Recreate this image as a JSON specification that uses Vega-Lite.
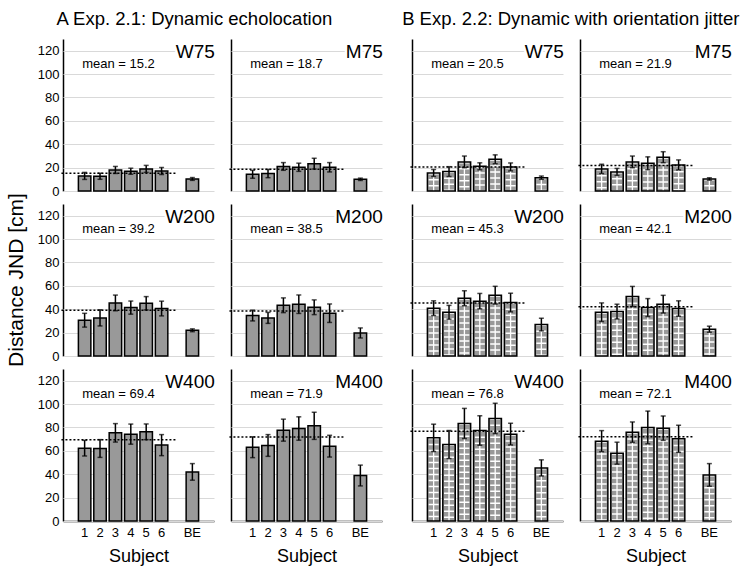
{
  "$schema": "https://vega.github.io/schema/vega-lite/v6.json",
  "padding": {"left": 5, "top": 9, "right": 2, "bottom": 2},
  "config": {
    "font": "Liberation Sans",
    "view": {"stroke": null},
    "axis": {"labelColor": "black", "titleColor": "black", "labelFontSize": 13, "domainColor": "black", "domainWidth": 1.5, "ticks": false, "gridColor": "#d9d9d9", "gridWidth": 1, "titleFontWeight": "normal"},
    "axisY": {"tickCount": 7, "labelOverlap": false},
    "title": {"fontWeight": "normal", "fontSize": 18.5, "color": "black", "anchor": "middle", "offset": 11}
  },
  "datasets": {
    "means": [
      {"g": "AW75", "exp": "A", "t": "W", "d": 75, "panel": "W75", "m": 15.2, "ml": "mean = 15.2"},
      {"g": "AM75", "exp": "A", "t": "M", "d": 75, "panel": "M75", "m": 18.7, "ml": "mean = 18.7"},
      {"g": "BW75", "exp": "B", "t": "W", "d": 75, "panel": "W75", "m": 20.5, "ml": "mean = 20.5"},
      {"g": "BM75", "exp": "B", "t": "M", "d": 75, "panel": "M75", "m": 21.9, "ml": "mean = 21.9"},
      {"g": "AW200", "exp": "A", "t": "W", "d": 200, "panel": "W200", "m": 39.2, "ml": "mean = 39.2"},
      {"g": "AM200", "exp": "A", "t": "M", "d": 200, "panel": "M200", "m": 38.5, "ml": "mean = 38.5"},
      {"g": "BW200", "exp": "B", "t": "W", "d": 200, "panel": "W200", "m": 45.3, "ml": "mean = 45.3"},
      {"g": "BM200", "exp": "B", "t": "M", "d": 200, "panel": "M200", "m": 42.1, "ml": "mean = 42.1"},
      {"g": "AW400", "exp": "A", "t": "W", "d": 400, "panel": "W400", "m": 69.4, "ml": "mean = 69.4"},
      {"g": "AM400", "exp": "A", "t": "M", "d": 400, "panel": "M400", "m": 71.9, "ml": "mean = 71.9"},
      {"g": "BW400", "exp": "B", "t": "W", "d": 400, "panel": "W400", "m": 76.8, "ml": "mean = 76.8"},
      {"g": "BM400", "exp": "B", "t": "M", "d": 400, "panel": "M400", "m": 72.1, "ml": "mean = 72.1"}
    ],
    "bars": [
      {"g": "AW75", "s": "1", "v": 12.9, "e": 3}, {"g": "AW75", "s": "2", "v": 12.6, "e": 2.6}, {"g": "AW75", "s": "3", "v": 18, "e": 3}, {"g": "AW75", "s": "4", "v": 16.9, "e": 2.6}, {"g": "AW75", "s": "5", "v": 18.9, "e": 3}, {"g": "AW75", "s": "6", "v": 17.1, "e": 3}, {"g": "AW75", "s": "BE", "v": 10.3, "e": 1.2},
      {"g": "AM75", "s": "1", "v": 14.3, "e": 3.4}, {"g": "AM75", "s": "2", "v": 14.9, "e": 3.5}, {"g": "AM75", "s": "3", "v": 21, "e": 3.3}, {"g": "AM75", "s": "4", "v": 20.3, "e": 3.5}, {"g": "AM75", "s": "5", "v": 23.4, "e": 4.6}, {"g": "AM75", "s": "6", "v": 20.3, "e": 4}, {"g": "AM75", "s": "BE", "v": 10, "e": 1},
      {"g": "BW75", "s": "1", "v": 15.4, "e": 3}, {"g": "BW75", "s": "2", "v": 16.6, "e": 4.2}, {"g": "BW75", "s": "3", "v": 24.9, "e": 5}, {"g": "BW75", "s": "4", "v": 21.1, "e": 3}, {"g": "BW75", "s": "5", "v": 27.1, "e": 3.8}, {"g": "BW75", "s": "6", "v": 20.6, "e": 3.4}, {"g": "BW75", "s": "BE", "v": 11.4, "e": 1.4},
      {"g": "BM75", "s": "1", "v": 18.9, "e": 4}, {"g": "BM75", "s": "2", "v": 16.3, "e": 3}, {"g": "BM75", "s": "3", "v": 24.9, "e": 5}, {"g": "BM75", "s": "4", "v": 23.7, "e": 5.5}, {"g": "BM75", "s": "5", "v": 28.9, "e": 4.7}, {"g": "BM75", "s": "6", "v": 22.3, "e": 4.3}, {"g": "BM75", "s": "BE", "v": 10.3, "e": 1},
      {"g": "AW200", "s": "1", "v": 30.6, "e": 5.9}, {"g": "AW200", "s": "2", "v": 32.6, "e": 6.9}, {"g": "AW200", "s": "3", "v": 45.4, "e": 6.7}, {"g": "AW200", "s": "4", "v": 41.4, "e": 5.6}, {"g": "AW200", "s": "5", "v": 45.1, "e": 5.7}, {"g": "AW200", "s": "6", "v": 40.6, "e": 6.3}, {"g": "AW200", "s": "BE", "v": 22, "e": 1.2},
      {"g": "AM200", "s": "1", "v": 34.6, "e": 4.6}, {"g": "AM200", "s": "2", "v": 32.6, "e": 4.7}, {"g": "AM200", "s": "3", "v": 43.4, "e": 6.3}, {"g": "AM200", "s": "4", "v": 44.3, "e": 7.9}, {"g": "AM200", "s": "5", "v": 41.7, "e": 6.3}, {"g": "AM200", "s": "6", "v": 36.6, "e": 7.9}, {"g": "AM200", "s": "BE", "v": 19.7, "e": 4.3},
      {"g": "BW200", "s": "1", "v": 40.9, "e": 6.3}, {"g": "BW200", "s": "2", "v": 37.4, "e": 5.9}, {"g": "BW200", "s": "3", "v": 49.4, "e": 6.4}, {"g": "BW200", "s": "4", "v": 46.9, "e": 6.6}, {"g": "BW200", "s": "5", "v": 52, "e": 7.6}, {"g": "BW200", "s": "6", "v": 45.7, "e": 8}, {"g": "BW200", "s": "BE", "v": 26.9, "e": 5.4},
      {"g": "BM200", "s": "1", "v": 37.4, "e": 8}, {"g": "BM200", "s": "2", "v": 38, "e": 6.3}, {"g": "BM200", "s": "3", "v": 50.9, "e": 8.6}, {"g": "BM200", "s": "4", "v": 41.4, "e": 7.7}, {"g": "BM200", "s": "5", "v": 44.3, "e": 7.6}, {"g": "BM200", "s": "6", "v": 40.6, "e": 6.6}, {"g": "BM200", "s": "BE", "v": 22.9, "e": 2.6},
      {"g": "AW400", "s": "1", "v": 62.3, "e": 6.7}, {"g": "AW400", "s": "2", "v": 62, "e": 7.6}, {"g": "AW400", "s": "3", "v": 75.4, "e": 7.9}, {"g": "AW400", "s": "4", "v": 74.3, "e": 8.6}, {"g": "AW400", "s": "5", "v": 76.3, "e": 6.7}, {"g": "AW400", "s": "6", "v": 64.9, "e": 9}, {"g": "AW400", "s": "BE", "v": 42, "e": 7.1},
      {"g": "AM400", "s": "1", "v": 63.1, "e": 8.9}, {"g": "AM400", "s": "2", "v": 64.6, "e": 9.3}, {"g": "AM400", "s": "3", "v": 77.7, "e": 9.4}, {"g": "AM400", "s": "4", "v": 79.1, "e": 10}, {"g": "AM400", "s": "5", "v": 81.4, "e": 11.6}, {"g": "AM400", "s": "6", "v": 64, "e": 9.3}, {"g": "AM400", "s": "BE", "v": 38.9, "e": 8.9},
      {"g": "BW400", "s": "1", "v": 71.1, "e": 11.7}, {"g": "BW400", "s": "2", "v": 65.4, "e": 12}, {"g": "BW400", "s": "3", "v": 83.4, "e": 12.9}, {"g": "BW400", "s": "4", "v": 77.4, "e": 12.6}, {"g": "BW400", "s": "5", "v": 87.7, "e": 13}, {"g": "BW400", "s": "6", "v": 74.3, "e": 9.3}, {"g": "BW400", "s": "BE", "v": 45.4, "e": 6.9},
      {"g": "BM400", "s": "1", "v": 68.3, "e": 9}, {"g": "BM400", "s": "2", "v": 58, "e": 9.4}, {"g": "BM400", "s": "3", "v": 76, "e": 8.7}, {"g": "BM400", "s": "4", "v": 80, "e": 14}, {"g": "BM400", "s": "5", "v": 79.4, "e": 10.4}, {"g": "BM400", "s": "6", "v": 70.3, "e": 11.6}, {"g": "BM400", "s": "BE", "v": 39.4, "e": 9.7}
    ]
  },
  "spacing": 16,
  "hconcat": [
    {
      "title": {"text": "A  Exp. 2.1: Dynamic echolocation"},
      "spacing": 13,
      "hconcat": [
        {
          "data": {"name": "bars"},
          "transform": [
            {"lookup": "g", "from": {"data": {"name": "means"}, "key": "g", "fields": ["exp", "t", "d", "panel", "m", "ml"]}},
            {"filter": "datum.exp === 'A' && datum.t === 'W'"}
          ],
          "spacing": {"row": 13},
          "bounds": "flush",
          "facet": {"row": {"field": "d", "type": "ordinal", "sort": [75, 200, 400], "header": {"labels": false, "labelPadding": 0, "title": "Distance JND [cm]", "titleFontSize": 21, "titleColor": "black", "titleFontWeight": "normal", "titlePadding": 0}}},
          "spec": {
            "width": 151, "height": 152,
            "encoding": {"x": {"field": "s", "type": "nominal", "title": "Subject", "scale": {"domain": ["1", "2", "3", "4", "5", "6", " ", "BE"], "paddingInner": 0.19, "paddingOuter": 1.1}, "axis": {"labelAngle": 0, "titleFontSize": 18, "labelPadding": 5, "titlePadding": 8}}},
            "layer": [
              {"mark": {"type": "bar", "fill": "#999999", "stroke": "black", "strokeWidth": 1.5}, "encoding": {"y": {"field": "v", "type": "quantitative", "title": null, "scale": {"domain": [0, 130], "nice": false}, "axis": {"values": [0, 20, 40, 60, 80, 100, 120], "labelPadding": 4, "labelOverlap": false}}}},
              {"mark": {"type": "errorbar", "color": "black", "thickness": 1.5, "ticks": {"size": 5, "color": "black", "strokeWidth": 1.5}}, "encoding": {"y": {"field": "v", "type": "quantitative", "title": null, "scale": {"domain": [0, 130], "nice": false}, "axis": {"values": [0, 20, 40, 60, 80, 100, 120], "labelPadding": 4, "labelOverlap": false}}, "yError": {"field": "e"}}},
              {"mark": {"type": "rule", "color": "black", "strokeWidth": 1.5}, "encoding": {"y": {"datum": 0, "type": "quantitative", "title": null, "scale": {"domain": [0, 130], "nice": false}, "axis": {"values": [0, 20, 40, 60, 80, 100, 120], "labelPadding": 4, "labelOverlap": false}}}},
              {"transform": [{"filter": "datum.s === '1'"}], "mark": {"type": "rule", "color": "black", "strokeWidth": 1.5, "strokeDash": [2, 2]}, "encoding": {"x": {"datum": "1", "bandPosition": -1.36}, "x2": {"datum": " ", "bandPosition": 0.5}, "y": {"field": "m", "type": "quantitative", "title": null, "scale": {"domain": [0, 130], "nice": false}, "axis": {"values": [0, 20, 40, 60, 80, 100, 120], "labelPadding": 4, "labelOverlap": false}}}},
              {"transform": [{"filter": "datum.s === '1'"}], "mark": {"type": "text", "fontSize": 13, "align": "center", "baseline": "middle", "color": "black"}, "encoding": {"x": {"datum": "3", "bandPosition": 0.75}, "y": {"datum": 109, "type": "quantitative"}, "text": {"field": "ml"}}},
              {"transform": [{"filter": "datum.s === '1'"}], "mark": {"type": "text", "fontSize": 19, "align": "right", "baseline": "alphabetic", "stroke": "white", "strokeWidth": 5, "color": "white"}, "encoding": {"x": {"datum": "BE", "bandPosition": 2.3}, "y": {"datum": 113.5, "type": "quantitative"}, "text": {"field": "panel"}}},
              {"transform": [{"filter": "datum.s === '1'"}], "mark": {"type": "text", "fontSize": 19, "align": "right", "baseline": "alphabetic", "color": "black"}, "encoding": {"x": {"datum": "BE", "bandPosition": 2.3}, "y": {"datum": 113.5, "type": "quantitative"}, "text": {"field": "panel"}}}
            ]
          }
        },
        {
          "data": {"name": "bars"},
          "transform": [
            {"lookup": "g", "from": {"data": {"name": "means"}, "key": "g", "fields": ["exp", "t", "d", "panel", "m", "ml"]}},
            {"filter": "datum.exp === 'A' && datum.t === 'M'"}
          ],
          "spacing": {"row": 13},
          "bounds": "flush",
          "facet": {"row": {"field": "d", "type": "ordinal", "sort": [75, 200, 400], "header": {"labels": false, "labelPadding": 0, "title": null}}},
          "spec": {
            "width": 151, "height": 152,
            "encoding": {"x": {"field": "s", "type": "nominal", "title": "Subject", "scale": {"domain": ["1", "2", "3", "4", "5", "6", " ", "BE"], "paddingInner": 0.19, "paddingOuter": 1.1}, "axis": {"labelAngle": 0, "titleFontSize": 18, "labelPadding": 5, "titlePadding": 8}}},
            "layer": [
              {"mark": {"type": "bar", "fill": "#999999", "stroke": "black", "strokeWidth": 1.5}, "encoding": {"y": {"field": "v", "type": "quantitative", "title": null, "scale": {"domain": [0, 130], "nice": false}, "axis": {"values": [0, 20, 40, 60, 80, 100, 120], "labels": false}}}},
              {"mark": {"type": "errorbar", "color": "black", "thickness": 1.5, "ticks": {"size": 5, "color": "black", "strokeWidth": 1.5}}, "encoding": {"y": {"field": "v", "type": "quantitative", "title": null, "scale": {"domain": [0, 130], "nice": false}, "axis": {"values": [0, 20, 40, 60, 80, 100, 120], "labels": false}}, "yError": {"field": "e"}}},
              {"mark": {"type": "rule", "color": "black", "strokeWidth": 1.5}, "encoding": {"y": {"datum": 0, "type": "quantitative", "title": null, "scale": {"domain": [0, 130], "nice": false}, "axis": {"values": [0, 20, 40, 60, 80, 100, 120], "labels": false}}}},
              {"transform": [{"filter": "datum.s === '1'"}], "mark": {"type": "rule", "color": "black", "strokeWidth": 1.5, "strokeDash": [2, 2]}, "encoding": {"x": {"datum": "1", "bandPosition": -1.36}, "x2": {"datum": " ", "bandPosition": 0.5}, "y": {"field": "m", "type": "quantitative", "title": null, "scale": {"domain": [0, 130], "nice": false}, "axis": {"values": [0, 20, 40, 60, 80, 100, 120], "labels": false}}}},
              {"transform": [{"filter": "datum.s === '1'"}], "mark": {"type": "text", "fontSize": 13, "align": "center", "baseline": "middle", "color": "black"}, "encoding": {"x": {"datum": "3", "bandPosition": 0.75}, "y": {"datum": 109, "type": "quantitative"}, "text": {"field": "ml"}}},
              {"transform": [{"filter": "datum.s === '1'"}], "mark": {"type": "text", "fontSize": 19, "align": "right", "baseline": "alphabetic", "stroke": "white", "strokeWidth": 5, "color": "white"}, "encoding": {"x": {"datum": "BE", "bandPosition": 2.3}, "y": {"datum": 113.5, "type": "quantitative"}, "text": {"field": "panel"}}},
              {"transform": [{"filter": "datum.s === '1'"}], "mark": {"type": "text", "fontSize": 19, "align": "right", "baseline": "alphabetic", "color": "black"}, "encoding": {"x": {"datum": "BE", "bandPosition": 2.3}, "y": {"datum": 113.5, "type": "quantitative"}, "text": {"field": "panel"}}}
            ]
          }
        }
      ]
    },
    {
      "title": {"text": "B  Exp. 2.2: Dynamic with orientation jitter"},
      "spacing": 13,
      "hconcat": [
        {
          "data": {"name": "bars"},
          "transform": [
            {"lookup": "g", "from": {"data": {"name": "means"}, "key": "g", "fields": ["exp", "t", "d", "panel", "m", "ml"]}},
            {"filter": "datum.exp === 'B' && datum.t === 'W'"}
          ],
          "spacing": {"row": 13},
          "bounds": "flush",
          "facet": {"row": {"field": "d", "type": "ordinal", "sort": [75, 200, 400], "header": {"labels": false, "labelPadding": 0, "title": null}}},
          "spec": {
            "width": 151, "height": 152,
            "encoding": {"x": {"field": "s", "type": "nominal", "title": "Subject", "scale": {"domain": ["1", "2", "3", "4", "5", "6", " ", "BE"], "paddingInner": 0.19, "paddingOuter": 1.1}, "axis": {"labelAngle": 0, "titleFontSize": 18, "labelPadding": 5, "titlePadding": 8}}},
            "layer": [
              {"mark": {"type": "bar", "fill": "#999999", "strokeWidth": 0}, "encoding": {"y": {"field": "v", "type": "quantitative", "title": null, "scale": {"domain": [0, 130], "nice": false}, "axis": {"values": [0, 20, 40, 60, 80, 100, 120], "labels": false}}}},
              {"mark": {"type": "rule", "color": "white", "strokeWidth": 10, "strokeDash": [1.5, 4.5], "strokeCap": "butt"}, "encoding": {"y": {"field": "v", "type": "quantitative", "title": null, "scale": {"domain": [0, 130], "nice": false}, "axis": {"values": [0, 20, 40, 60, 80, 100, 120], "labels": false}}, "y2": {"datum": 0}}},
              {"mark": {"type": "rule", "color": "white", "strokeWidth": 1.3}, "encoding": {"y": {"field": "v", "type": "quantitative", "title": null, "scale": {"domain": [0, 130], "nice": false}, "axis": {"values": [0, 20, 40, 60, 80, 100, 120], "labels": false}}, "y2": {"datum": 0}}},
              {"mark": {"type": "bar", "fillOpacity": 0, "stroke": "black", "strokeWidth": 1.5}, "encoding": {"y": {"field": "v", "type": "quantitative", "title": null, "scale": {"domain": [0, 130], "nice": false}, "axis": {"values": [0, 20, 40, 60, 80, 100, 120], "labels": false}}}},
              {"mark": {"type": "errorbar", "color": "black", "thickness": 1.5, "ticks": {"size": 5, "color": "black", "strokeWidth": 1.5}}, "encoding": {"y": {"field": "v", "type": "quantitative", "title": null, "scale": {"domain": [0, 130], "nice": false}, "axis": {"values": [0, 20, 40, 60, 80, 100, 120], "labels": false}}, "yError": {"field": "e"}}},
              {"mark": {"type": "rule", "color": "black", "strokeWidth": 1.5}, "encoding": {"y": {"datum": 0, "type": "quantitative", "title": null, "scale": {"domain": [0, 130], "nice": false}, "axis": {"values": [0, 20, 40, 60, 80, 100, 120], "labels": false}}}},
              {"transform": [{"filter": "datum.s === '1'"}], "mark": {"type": "rule", "color": "black", "strokeWidth": 1.5, "strokeDash": [2, 2]}, "encoding": {"x": {"datum": "1", "bandPosition": -1.36}, "x2": {"datum": " ", "bandPosition": 0.5}, "y": {"field": "m", "type": "quantitative", "title": null, "scale": {"domain": [0, 130], "nice": false}, "axis": {"values": [0, 20, 40, 60, 80, 100, 120], "labels": false}}}},
              {"transform": [{"filter": "datum.s === '1'"}], "mark": {"type": "text", "fontSize": 13, "align": "center", "baseline": "middle", "color": "black"}, "encoding": {"x": {"datum": "3", "bandPosition": 0.75}, "y": {"datum": 109, "type": "quantitative"}, "text": {"field": "ml"}}},
              {"transform": [{"filter": "datum.s === '1'"}], "mark": {"type": "text", "fontSize": 19, "align": "right", "baseline": "alphabetic", "stroke": "white", "strokeWidth": 5, "color": "white"}, "encoding": {"x": {"datum": "BE", "bandPosition": 2.3}, "y": {"datum": 113.5, "type": "quantitative"}, "text": {"field": "panel"}}},
              {"transform": [{"filter": "datum.s === '1'"}], "mark": {"type": "text", "fontSize": 19, "align": "right", "baseline": "alphabetic", "color": "black"}, "encoding": {"x": {"datum": "BE", "bandPosition": 2.3}, "y": {"datum": 113.5, "type": "quantitative"}, "text": {"field": "panel"}}}
            ]
          }
        },
        {
          "data": {"name": "bars"},
          "transform": [
            {"lookup": "g", "from": {"data": {"name": "means"}, "key": "g", "fields": ["exp", "t", "d", "panel", "m", "ml"]}},
            {"filter": "datum.exp === 'B' && datum.t === 'M'"}
          ],
          "spacing": {"row": 13},
          "bounds": "flush",
          "facet": {"row": {"field": "d", "type": "ordinal", "sort": [75, 200, 400], "header": {"labels": false, "labelPadding": 0, "title": null}}},
          "spec": {
            "width": 151, "height": 152,
            "encoding": {"x": {"field": "s", "type": "nominal", "title": "Subject", "scale": {"domain": ["1", "2", "3", "4", "5", "6", " ", "BE"], "paddingInner": 0.19, "paddingOuter": 1.1}, "axis": {"labelAngle": 0, "titleFontSize": 18, "labelPadding": 5, "titlePadding": 8}}},
            "layer": [
              {"mark": {"type": "bar", "fill": "#999999", "strokeWidth": 0}, "encoding": {"y": {"field": "v", "type": "quantitative", "title": null, "scale": {"domain": [0, 130], "nice": false}, "axis": {"values": [0, 20, 40, 60, 80, 100, 120], "labels": false}}}},
              {"mark": {"type": "rule", "color": "white", "strokeWidth": 10, "strokeDash": [1.5, 4.5], "strokeCap": "butt"}, "encoding": {"y": {"field": "v", "type": "quantitative", "title": null, "scale": {"domain": [0, 130], "nice": false}, "axis": {"values": [0, 20, 40, 60, 80, 100, 120], "labels": false}}, "y2": {"datum": 0}}},
              {"mark": {"type": "rule", "color": "white", "strokeWidth": 1.3}, "encoding": {"y": {"field": "v", "type": "quantitative", "title": null, "scale": {"domain": [0, 130], "nice": false}, "axis": {"values": [0, 20, 40, 60, 80, 100, 120], "labels": false}}, "y2": {"datum": 0}}},
              {"mark": {"type": "bar", "fillOpacity": 0, "stroke": "black", "strokeWidth": 1.5}, "encoding": {"y": {"field": "v", "type": "quantitative", "title": null, "scale": {"domain": [0, 130], "nice": false}, "axis": {"values": [0, 20, 40, 60, 80, 100, 120], "labels": false}}}},
              {"mark": {"type": "errorbar", "color": "black", "thickness": 1.5, "ticks": {"size": 5, "color": "black", "strokeWidth": 1.5}}, "encoding": {"y": {"field": "v", "type": "quantitative", "title": null, "scale": {"domain": [0, 130], "nice": false}, "axis": {"values": [0, 20, 40, 60, 80, 100, 120], "labels": false}}, "yError": {"field": "e"}}},
              {"mark": {"type": "rule", "color": "black", "strokeWidth": 1.5}, "encoding": {"y": {"datum": 0, "type": "quantitative", "title": null, "scale": {"domain": [0, 130], "nice": false}, "axis": {"values": [0, 20, 40, 60, 80, 100, 120], "labels": false}}}},
              {"transform": [{"filter": "datum.s === '1'"}], "mark": {"type": "rule", "color": "black", "strokeWidth": 1.5, "strokeDash": [2, 2]}, "encoding": {"x": {"datum": "1", "bandPosition": -1.36}, "x2": {"datum": " ", "bandPosition": 0.5}, "y": {"field": "m", "type": "quantitative", "title": null, "scale": {"domain": [0, 130], "nice": false}, "axis": {"values": [0, 20, 40, 60, 80, 100, 120], "labels": false}}}},
              {"transform": [{"filter": "datum.s === '1'"}], "mark": {"type": "text", "fontSize": 13, "align": "center", "baseline": "middle", "color": "black"}, "encoding": {"x": {"datum": "3", "bandPosition": 0.75}, "y": {"datum": 109, "type": "quantitative"}, "text": {"field": "ml"}}},
              {"transform": [{"filter": "datum.s === '1'"}], "mark": {"type": "text", "fontSize": 19, "align": "right", "baseline": "alphabetic", "stroke": "white", "strokeWidth": 5, "color": "white"}, "encoding": {"x": {"datum": "BE", "bandPosition": 2.3}, "y": {"datum": 113.5, "type": "quantitative"}, "text": {"field": "panel"}}},
              {"transform": [{"filter": "datum.s === '1'"}], "mark": {"type": "text", "fontSize": 19, "align": "right", "baseline": "alphabetic", "color": "black"}, "encoding": {"x": {"datum": "BE", "bandPosition": 2.3}, "y": {"datum": 113.5, "type": "quantitative"}, "text": {"field": "panel"}}}
            ]
          }
        }
      ]
    }
  ]
}
